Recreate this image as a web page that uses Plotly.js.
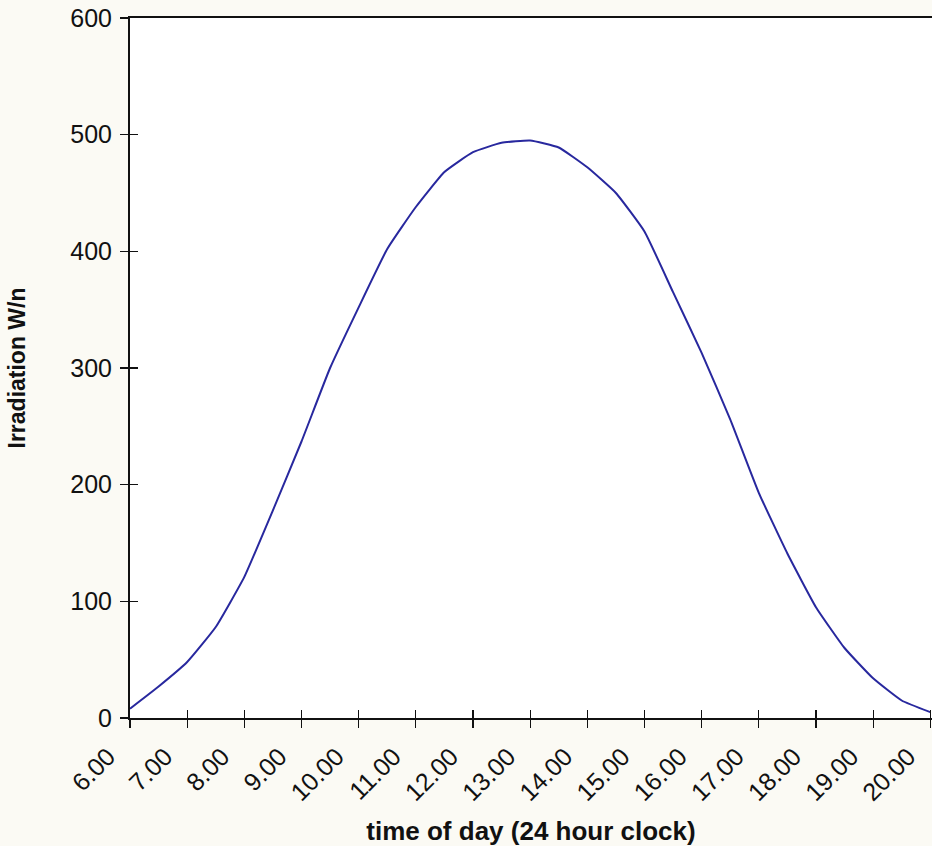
<!DOCTYPE html>
<html>
<head>
<meta charset="utf-8">
<script src="https://cdn.plot.ly/plotly-3.0.1.min.js"></script>
<style>html,body{margin:0;padding:0;background:#fbfaf4;}#chart{width:932px;height:846px;}</style>
</head>
<body>
<div id="chart"></div>
<script>
const hours = [6.0,6.5,7.0,7.5,8.0,8.5,9.0,9.5,10.0,10.5,11.0,11.5,12.0,12.5,13.0,13.5,14.0,14.5,15.0,15.5,16.0,16.5,17.0,17.5,18.0,18.5,19.0,19.5,20.0];
const irradiation = [8,27,48,78,121,178,237,300,352,402,438,468,485,493,495,489,472,450,417,365,313,256,193,141,95,60,34,15,5];
const tickHours = [6,7,8,9,10,11,12,13,14,15,16,17,18,19,20];
const tickLabels = ["6.00","7.00","8.00","9.00","10.00","11.00","12.00","13.00","14.00","15.00","16.00","17.00","18.00","19.00","20.00"];
const yTicks = [0,100,200,300,400,500,600];

const font = "Liberation Sans, Arial, sans-serif";
const traces = [
  {x: hours, y: irradiation, type: 'scatter', mode: 'lines',
   line: {color: '#28289e', width: 2, shape: 'spline', smoothing: 0.4},
   hoverinfo: 'x+y', showlegend: false},
  {x: hours, y: irradiation, xaxis: 'x2', yaxis: 'y2', type: 'scatter', mode: 'lines',
   line: {color: 'rgba(0,0,0,0)', width: 0}, hoverinfo: 'skip', showlegend: false}
];
const common = {showgrid: false, zeroline: false, ticklen: 8, tickwidth: 1.2, tickcolor: '#111'};
const layout = {
  width: 932, height: 846,
  margin: {l: 130, r: 0, t: 18, b: 128},
  paper_bgcolor: '#fbfaf4', plot_bgcolor: '#ffffff',
  showlegend: false,
  xaxis: Object.assign({}, common, {
    range: [6, 20.03], tickmode: 'array', tickvals: tickHours, ticktext: tickLabels,
    ticks: 'outside', tickangle: -45, ticklabelshift: -22, ticklabelstandoff: 4,
    showline: true, linecolor: '#111', linewidth: 2, mirror: true,
    tickfont: {family: font, size: 25, color: '#111'},
    title: {text: 'time of day (24 hour clock)', standoff: 20,
            font: {family: font, size: 26, color: '#111', weight: 'bold'}}
  }),
  yaxis: Object.assign({}, common, {
    range: [0, 600], tickmode: 'array', tickvals: yTicks,
    ticks: 'outside', ticklabelstandoff: 3,
    showline: true, linecolor: '#111', linewidth: 2, mirror: true,
    tickfont: {family: font, size: 25, color: '#111'},
    title: {text: 'Irradiation W/n', standoff: 38,
            font: {family: font, size: 23, color: '#111', weight: 'bold'}}
  }),
  xaxis2: Object.assign({}, common, {
    overlaying: 'x', anchor: 'y2', side: 'bottom', matches: 'x',
    range: [6, 20.03], tickmode: 'array', tickvals: tickHours,
    ticks: 'inside', showticklabels: false, showline: false
  }),
  yaxis2: Object.assign({}, common, {
    overlaying: 'y', anchor: 'x2', side: 'left',
    range: [0, 600], tickmode: 'array', tickvals: yTicks,
    ticks: 'inside', showticklabels: false, showline: false
  })
};
Plotly.newPlot('chart', traces, layout, {displayModeBar: false, staticPlot: true});
</script>
</body>
</html>
